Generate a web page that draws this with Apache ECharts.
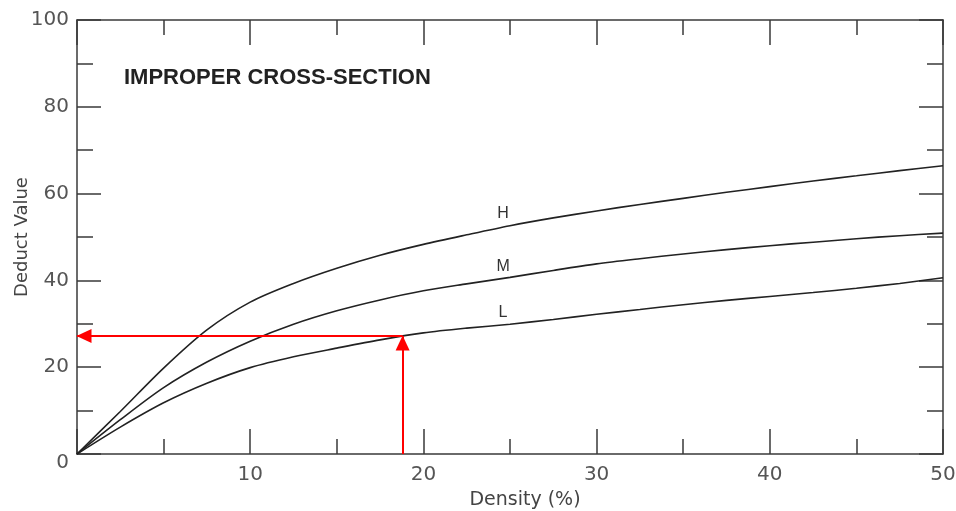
<!DOCTYPE html>
<html>
<head>
<meta charset="utf-8">
<script src="https://cdn.jsdelivr.net/npm/echarts@6/dist/echarts.min.js"></script>
<style>
html,body{margin:0;padding:0;background:#fff;}
#chart{width:956px;height:511px;}
</style>
</head>
<body>
<div id="chart"></div>
<script>
// ---- data ----
const density = [0, 2.5, 5, 7.5, 10, 12.5, 15, 17.5, 20, 22.5, 25, 27.5, 30, 32.5, 35, 37.5, 40, 42.5, 45, 47.5, 50];
const curveH = [0, 9.8, 19.8, 28.6, 35.0, 39.3, 42.8, 45.8, 48.3, 50.5, 52.6, 54.4, 56.0, 57.5, 58.9, 60.3, 61.6, 62.9, 64.1, 65.3, 66.4];
const curveM = [0, 7.9, 15.3, 21.2, 26.0, 29.9, 33.0, 35.5, 37.6, 39.2, 40.7, 42.3, 43.8, 45.0, 46.1, 47.1, 48.0, 48.8, 49.6, 50.3, 50.9];
const curveL = [0, 6.2, 11.8, 16.3, 19.9, 22.4, 24.4, 26.3, 27.9, 29.0, 29.9, 31.0, 32.2, 33.3, 34.4, 35.4, 36.3, 37.2, 38.2, 39.3, 40.6];
const curveNames = ['H', 'M', 'L'];
const labelX = [24.6, 24.6, 24.6];
const labelY = [55.5, 43.1, 32.5];
const exampleDensity = 18.8;
const exampleDeduct = 27.2;
const xTicks = [0, 10, 20, 30, 40, 50];
const yTicks = [0, 20, 40, 60, 80, 100];
const chartTitle = 'IMPROPER CROSS-SECTION';
const xName = 'Density (%)';
const yName = 'Deduct Value';

const toPts = arr => density.map((d, i) => [d, arr[i]]);
const axisColor = '#3a3a3a';
const lineStyleAxis = { color: axisColor, width: 1.5 };
const labelFont = 'DejaVu Sans';

function xAxisCfg(pos, showLabel) {
  return {
    type: 'value', position: pos, min: xTicks[0], max: xTicks[xTicks.length - 1], interval: 10,
    axisLine: { show: true, onZero: false, lineStyle: lineStyleAxis },
    axisTick: { show: true, inside: true, length: 25, lineStyle: lineStyleAxis },
    minorTick: { show: true, splitNumber: 2, length: 15, lineStyle: lineStyleAxis },
    splitLine: { show: false },
    axisLabel: {
      show: showLabel, margin: 11, fontSize: 20, color: '#555', fontFamily: labelFont,
      formatter: v => (v === 0 ? '' : String(v))
    },
    name: showLabel ? xName : '', nameLocation: 'middle', nameGap: 37, nameMoveOverlap: false,
    nameTextStyle: { fontSize: 19, color: '#444', fontFamily: labelFont, padding: [0, 0, 0, 30] }
  };
}
function yAxisCfg(pos, showLabel) {
  return {
    type: 'value', position: pos, min: yTicks[0], max: yTicks[yTicks.length - 1], interval: 20,
    axisLine: { show: true, onZero: false, lineStyle: lineStyleAxis },
    axisTick: { show: true, inside: true, length: 24, lineStyle: lineStyleAxis },
    minorTick: { show: true, splitNumber: 2, length: 16, lineStyle: lineStyleAxis },
    splitLine: { show: false },
    axisLabel: {
      show: showLabel, margin: 8, fontSize: 20, color: '#555', fontFamily: labelFont,
      formatter: v => (v === 0 ? '{z|0}' : String(v)),
      rich: { z: { fontSize: 20, color: '#555', fontFamily: labelFont, padding: [18, 0, 0, 0] } }
    },
    name: showLabel ? yName : '', nameLocation: 'middle', nameGap: 46, nameRotate: 90, nameMoveOverlap: false,
    nameTextStyle: { fontSize: 18, color: '#444', fontFamily: labelFont }
  };
}

const curves = [curveH, curveM, curveL];
const series = curves.map((c, i) => ({
  type: 'line', name: curveNames[i], data: toPts(c), smooth: 0.3,
  showSymbol: false, symbol: 'none',
  lineStyle: { color: '#222', width: 1.6 },
  xAxisIndex: 0, yAxisIndex: 0, z: 3,
  markPoint: {
    symbol: 'circle', symbolSize: 0, silent: true,
    label: { show: true, position: 'inside', formatter: curveNames[i], fontSize: 16, color: '#333', fontFamily: 'Liberation Sans' },
    data: [{ coord: [labelX[i], labelY[i]] }]
  }
}));

series.push({
  type: 'line', data: [], xAxisIndex: 0, yAxisIndex: 0, z: 10,
  markLine: {
    silent: true,
    symbol: ['none', 'triangle'],
    symbolSize: [14, 15],
    symbolOffset: [[0, 0], [0, 7]],
    lineStyle: { color: '#ff0000', width: 2, type: 'solid' },
    label: { show: false },
    data: [
      [{ coord: [exampleDensity, 0] }, { coord: [exampleDensity, exampleDeduct] }],
      [{ coord: [exampleDensity, exampleDeduct] }, { coord: [0, exampleDeduct] }]
    ]
  }
});

const chart = echarts.init(document.getElementById('chart'), null, { renderer: 'canvas' });
chart.setOption({
  animation: false,
  backgroundColor: '#fff',
  title: {
    text: chartTitle, left: 119, top: 62,
    textStyle: { fontSize: 22, fontWeight: 'bold', color: '#222', fontFamily: 'Liberation Sans' }
  },
  grid: { left: 77, right: 13, top: 20, bottom: 57, containLabel: false, outerBoundsMode: 'none' },
  xAxis: [xAxisCfg('bottom', true), xAxisCfg('top', false)],
  yAxis: [yAxisCfg('left', true), yAxisCfg('right', false)],
  series: series
});
</script>
</body>
</html>
